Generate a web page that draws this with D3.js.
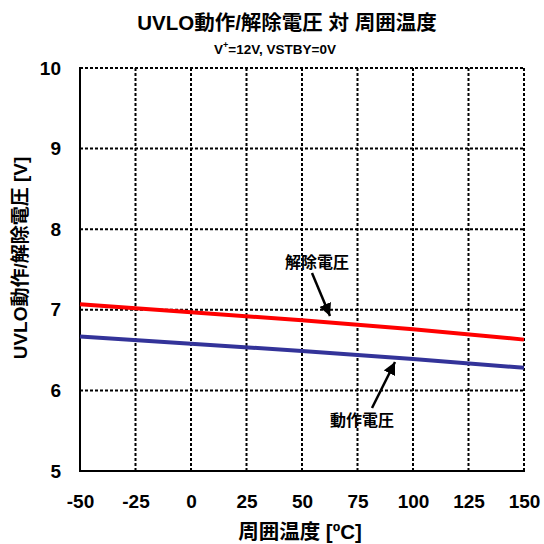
<!DOCTYPE html>
<html><head><meta charset="utf-8">
<script src="https://cdn.jsdelivr.net/npm/d3@7"></script>
<style>
body{margin:0;background:#fff;}
text{font-family:"Liberation Sans",Arial,"Noto Sans CJK JP",sans-serif;font-weight:bold;fill:#000;}
</style></head><body>
<svg id="c" width="544" height="544"></svg>
<script>
const temps = [-50, 0, 50, 100, 150];
const releaseV = [7.07, 6.97, 6.87, 6.76, 6.63];
const operateV = [6.67, 6.58, 6.49, 6.39, 6.28];
const xTicks = [-50, -25, 0, 25, 50, 75, 100, 125, 150];
const yTicks = [5, 6, 7, 8, 9, 10];

const svg = d3.select("#c");
const L = 80, R = 524, T = 68, B = 471;
const x = d3.scaleLinear().domain([-50, 150]).range([L, R]);
const y = d3.scaleLinear().domain([5, 10]).range([B, T]);

// grid
const g = svg.append("g").attr("stroke", "#000").attr("stroke-width", 2).attr("stroke-dasharray", "3,2");
g.selectAll(".gx").data(xTicks.slice(1)).join("line")
  .attr("x1", d => x(d)).attr("x2", d => x(d)).attr("y1", T).attr("y2", B);
g.selectAll(".gy").data(yTicks.slice(1)).join("line")
  .attr("x1", L).attr("x2", R).attr("y1", d => y(d)).attr("y2", d => y(d));

// axes solid
svg.append("line").attr("x1", L).attr("x2", L).attr("y1", T - 1).attr("y2", B + 1).attr("stroke", "#000").attr("stroke-width", 2);
svg.append("line").attr("x1", L - 1).attr("x2", R + 1).attr("y1", B).attr("y2", B).attr("stroke", "#000").attr("stroke-width", 2);

// tick labels via axes
const fmt = d => String(d);
const xa = svg.append("g").attr("transform", `translate(0,${B})`)
  .call(d3.axisBottom(x).tickValues(xTicks).tickFormat(fmt).tickSize(0).tickPadding(24));
xa.select(".domain").remove();
xa.selectAll("text").style("font-size", "19px").style("font-family", null);
const ya = svg.append("g").attr("transform", `translate(${L},0)`)
  .call(d3.axisLeft(y).tickValues(yTicks).tickFormat(fmt).tickSize(0).tickPadding(19));
ya.select(".domain").remove();
ya.selectAll("text").style("font-size", "19px").style("font-family", null);

// lines
const line = d3.line().x((d, i) => x(temps[i])).y(d => y(d));
svg.append("path").datum(releaseV).attr("d", line).attr("fill", "none").attr("stroke", "#ff0000").attr("stroke-width", 4);
svg.append("path").datum(operateV).attr("d", line).attr("fill", "none").attr("stroke", "#333399").attr("stroke-width", 4);

// titles
svg.append("text").attr("x", 287).attr("y", 30).attr("text-anchor", "middle").style("font-size", "20.5px").text("UVLO動作/解除電圧 対 周囲温度");
const st = svg.append("text").attr("x", 275).attr("y", 54).attr("text-anchor", "middle").style("font-size", "13.5px");
st.append("tspan").text("V");
st.append("tspan").attr("dy", -6).style("font-size", "9px").text("+");
st.append("tspan").attr("dy", 6).text("=12V, VSTBY=0V");

svg.append("text").attr("x", 300).attr("y", 539).attr("text-anchor", "middle").style("font-size", "20.5px").text("周囲温度 [ºC]");
svg.append("text").attr("transform", "translate(27,258) rotate(-90)").attr("text-anchor", "middle").style("font-size", "19px").text("UVLO動作/解除電圧 [V]");

// annotations
const defs = svg.append("defs");
defs.append("marker").attr("id", "ah").attr("viewBox", "0 0 10 10").attr("refX", 10).attr("refY", 5)
  .attr("markerWidth", 5).attr("markerHeight", 5).attr("orient", "auto")
  .append("path").attr("d", "M0,0L10,5L0,10Z").attr("fill", "#000");
svg.append("text").attr("x", 317).attr("y", 268).attr("text-anchor", "middle").style("font-size", "16px").text("解除電圧");
svg.append("line").attr("x1", 312).attr("y1", 273).attr("x2", 330).attr("y2", 316).attr("stroke", "#000").attr("stroke-width", 2.5).attr("marker-end", "url(#ah)");
svg.append("text").attr("x", 362).attr("y", 426).attr("text-anchor", "middle").style("font-size", "16px").text("動作電圧");
svg.append("line").attr("x1", 372).attr("y1", 408).attr("x2", 395).attr("y2", 362).attr("stroke", "#000").attr("stroke-width", 2.5).attr("marker-end", "url(#ah)");
</script></body></html>
